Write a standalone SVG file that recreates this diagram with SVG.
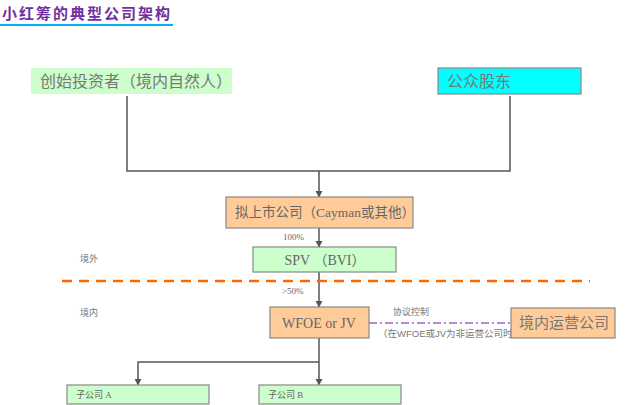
<svg xmlns="http://www.w3.org/2000/svg" width="640" height="405" viewBox="0 0 640 405">
<style>
.t{font-family:"Liberation Serif","Noto Sans CJK SC",serif;fill:#666}
.s{font-family:"Liberation Sans","Noto Sans CJK SC",sans-serif;fill:#777}
.ln{stroke:#555;stroke-width:1.5;fill:none}
.or{fill:#ffcc99;stroke:#888;stroke-width:1.2}
.gr{fill:#ccffcc;stroke:#888;stroke-width:1.2}
</style>
<defs>
<marker id="ar" markerWidth="8" markerHeight="8" refX="6" refY="4" orient="auto" markerUnits="userSpaceOnUse">
<path d="M0,0.5 L6.5,4 L0,7.5 Z" fill="#555"/>
</marker>
</defs>
<rect width="640" height="405" fill="#fff"/>
<g id="title">
<text x="2" y="19" font-family="Noto Sans CJK SC,sans-serif" font-size="15" font-weight="bold" letter-spacing="2" fill="#7030a0">小红筹的典型公司架构</text>
<line x1="0" y1="25" x2="173" y2="25" stroke="#00b0f0" stroke-width="2.2"/>
</g>
<g id="connectors">
<polyline class="ln" points="127,96 127,171 510,171 510,96"/>
<line class="ln" x1="319" y1="171" x2="319" y2="197" marker-end="url(#ar)"/>
<line class="ln" x1="319" y1="228" x2="319" y2="247" marker-end="url(#ar)"/>
<line class="ln" x1="319" y1="272" x2="319" y2="307" marker-end="url(#ar)"/>
<polyline class="ln" points="319,338 319,362"/>
<polyline class="ln" points="319,362 138,362 138,385" marker-end="url(#ar)"/>
<line class="ln" x1="319" y1="362" x2="319" y2="385" marker-end="url(#ar)"/>
<line x1="369" y1="323" x2="511" y2="323" stroke="#9966cc" stroke-width="1.5" stroke-dasharray="8,3,2,3"/>
<line x1="62" y1="281" x2="590" y2="281" stroke="#ff6600" stroke-width="2.5" stroke-dasharray="10,7"/>
</g>
<g id="founder">
<rect x="31" y="68" width="201" height="26" fill="#ccffcc"/>
<text class="s" x="40" y="87" font-size="16">创始投资者（境内自然人）</text>
</g>
<g id="public">
<rect x="438" y="68" width="143" height="26" fill="#00ffff" stroke="#888" stroke-width="1.2"/>
<text class="s" x="447" y="87" font-size="16" fill="#666">公众股东</text>
</g>
<g id="listco">
<rect class="or" x="226" y="197" width="187" height="31"/>
<text class="t" x="325" y="217" font-size="13.5" text-anchor="middle">拟上市公司（Cayman或其他）</text>
</g>
<text class="t" x="283" y="240" font-size="9">100%</text>
<g id="spv">
<rect class="gr" x="253" y="247" width="143" height="25"/>
<text class="t" x="325" y="265" font-size="14" text-anchor="middle">SPV （BVI）</text>
</g>
<text class="s" x="80" y="262" font-size="9">境外</text>
<text class="s" x="80" y="316" font-size="9">境内</text>
<text class="t" x="282" y="294" font-size="9">&gt;50%</text>
<g id="wfoe">
<rect class="or" x="270" y="307" width="99" height="31"/>
<text class="t" x="319" y="328" font-size="14" text-anchor="middle">WFOE or JV</text>
</g>
<text class="s" x="393" y="315" font-size="9">协议控制</text>
<text class="s" x="378" y="337" font-size="9.5">（在WFOE或JV为非运营公司时）</text>
<g id="opco">
<rect class="or" x="511" y="308" width="104" height="30"/>
<text class="s" x="519" y="328" font-size="15" fill="#666">境内运营公司</text>
</g>
<g id="subA">
<rect class="gr" x="67" y="385" width="142" height="19"/>
<text class="t" x="76" y="398" font-size="9">子公司 A</text>
</g>
<g id="subB">
<rect class="gr" x="259" y="385" width="142" height="19"/>
<text class="t" x="268" y="398" font-size="9">子公司 B</text>
</g>
</svg>
